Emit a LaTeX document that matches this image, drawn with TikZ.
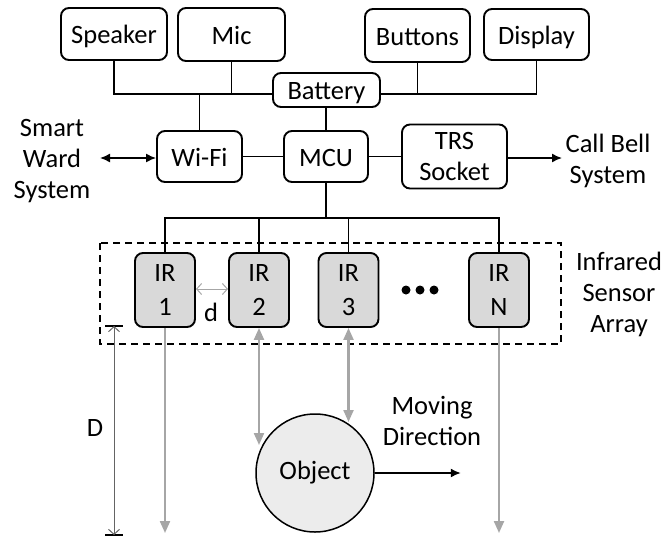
\documentclass[tikz,border=0pt]{standalone}
\usepackage{fontspec}
\setmainfont{Carlito}
\usetikzlibrary{arrows.meta}
\definecolor{irfill}{RGB}{217,217,217}
\definecolor{objfill}{RGB}{236,236,236}
\definecolor{beam}{RGB}{166,166,166}
\definecolor{dimline}{RGB}{100,100,100}
\begin{document}
\begin{tikzpicture}[x=1pt,y=-1pt,
	font=\fontsize{26.5}{31}\selectfont,
	blk/.style={draw, line width=1.9pt, rounded corners=8pt, fill=white, align=center, inner sep=0pt},
	oneline/.style={text height=21pt, text depth=2pt},
	irblk/.style={blk, fill=irfill, minimum width=60pt, minimum height=74pt},
	wire/.style={line width=1.5pt},
	beamarrow/.style={draw=beam, line width=2.2pt, -{Triangle[length=12pt,width=10pt]}},
	beamboth/.style={draw=beam, line width=2.2pt, {Triangle[length=12pt,width=10pt]}-{Triangle[length=12pt,width=10pt]}},
	dimarrow/.style={line width=1pt, {Straight Barb[length=5pt,width=11pt]}-{Straight Barb[length=5pt,width=11pt]}}]
	\useasboundingbox (0,0) rectangle (663,538);

	% top row
	\node[blk, oneline, minimum width=106, minimum height=52] (spk) at (114,34) {Speaker};
	\node[blk, oneline, minimum width=107, minimum height=53] (mic) at (231.5,34.5) {Mic};
	\node[blk, oneline, minimum width=105, minimum height=53] (btn) at (417.5,35.5) {Buttons};
	\node[blk, oneline, minimum width=105, minimum height=51] (disp) at (536.5,34.5) {Display};
	\coordinate (busy) at (0,94);
	\draw[wire] (spk.south) |- (330,94);
	\draw[wire] (disp.south) |- (330,94);
	\draw[wire] (mic.south) -- (mic.south |- busy);
	\draw[wire] (btn.south) -- (btn.south |- busy);
	\node[blk, oneline, minimum width=107, minimum height=34] (bat) at (326.5,90) {Battery};

	% middle row
	\node[blk, oneline, minimum width=85, minimum height=51] (wifi) at (199.5,156.5) {Wi-Fi};
	\node[blk, oneline, minimum width=84, minimum height=51] (mcu) at (326,156.5) {MCU};
	\node[blk, minimum width=105, minimum height=64] (trs) at (454.5,156.5) {TRS\\Socket};
	\node[align=center] (ward) at (52,161) {Smart\\Ward\\System};
	\node[align=center] (bell) at (608,161) {Call Bell\\System};
	\draw[wire] (wifi.north) -- (wifi.north |- busy);
	\draw[wire] (mcu.north) -- (mcu.north |- bat.south);
	\draw[wire] (wifi) -- (mcu);
	\draw[wire] (mcu) -- (trs);
	\draw[wire, {Latex[length=10pt,width=9pt]}-{Latex[length=10pt,width=9pt]}] (100,158) -- (wifi.west |- 0,158);
	\draw[wire, -{Latex[length=10pt,width=9pt]}] (trs.east |- 0,158) -- (562,158);

	% sensor array
	\draw[line width=1.8pt, dash pattern=on 7pt off 5pt] (100,243) rectangle (561,344);
	\node[irblk] (ir1) at (165,290) {IR\\[3pt]1};
	\node[irblk] (ir2) at (259,290) {IR\\[3pt]2};
	\node[irblk] (ir3) at (348.5,290) {IR\\[3pt]3};
	\node[irblk] (irN) at (499,290) {IR\\[3pt]N};
	\foreach \x in {406,420,434} \fill (\x,290) circle (4.5);
	\node[align=center] (isa) at (619,294) {Infrared\\Sensor\\Array};
	\coordinate (irbus) at (0,218);
	\draw[wire] (mcu.south) -- (mcu.south |- irbus);
	\draw[wire] (ir1.north) |- (irN.north |- irbus) -- (irN.north);
	\draw[wire] (ir2.north) -- (ir2.north |- irbus);
	\draw[wire] (ir3.north) -- (ir3.north |- irbus);
	\draw[dimarrow, draw=beam] (ir1.east |- 0,289) -- (ir2.west |- 0,289);
	\node (dlbl) at (211,312) {d};

	% distance
	\coordinate (Dtop) at (114,326);
	\coordinate (Dbot) at (114,535);
	\draw[line width=1.4pt] ([xshift=-9pt]Dtop) -- ([xshift=9pt]Dtop);
	\draw[line width=1.4pt] ([xshift=-9pt]Dbot) -- ([xshift=9pt]Dbot);
	\draw[dimarrow, draw=dimline] (Dtop) -- (Dbot);
	\node (Dlbl) at (95,428) {D};

	% object
	\node[circle, draw, fill=objfill, line width=1.5pt, minimum size=118pt, inner sep=0pt] (obj) at (315,473) {Object};
	\node[align=center] (mdir) at (432,421) {Moving\\Direction};
	\draw[wire, -{Latex[length=10pt,width=9pt]}] (obj.east) -- ++(86,0);
	\coordinate (floor) at (0,533);
	\coordinate (hit2) at (259,445);
	\coordinate (hit3) at (348.5,422);
	\draw[beamarrow] (ir1.south) -- (ir1.south |- floor);
	\draw[beamarrow] (irN.south) -- (irN.south |- floor);
	\draw[beamboth] (ir2.south) -- (hit2);
	\draw[beamboth] (ir3.south) -- (hit3);
\end{tikzpicture}
\end{document}
